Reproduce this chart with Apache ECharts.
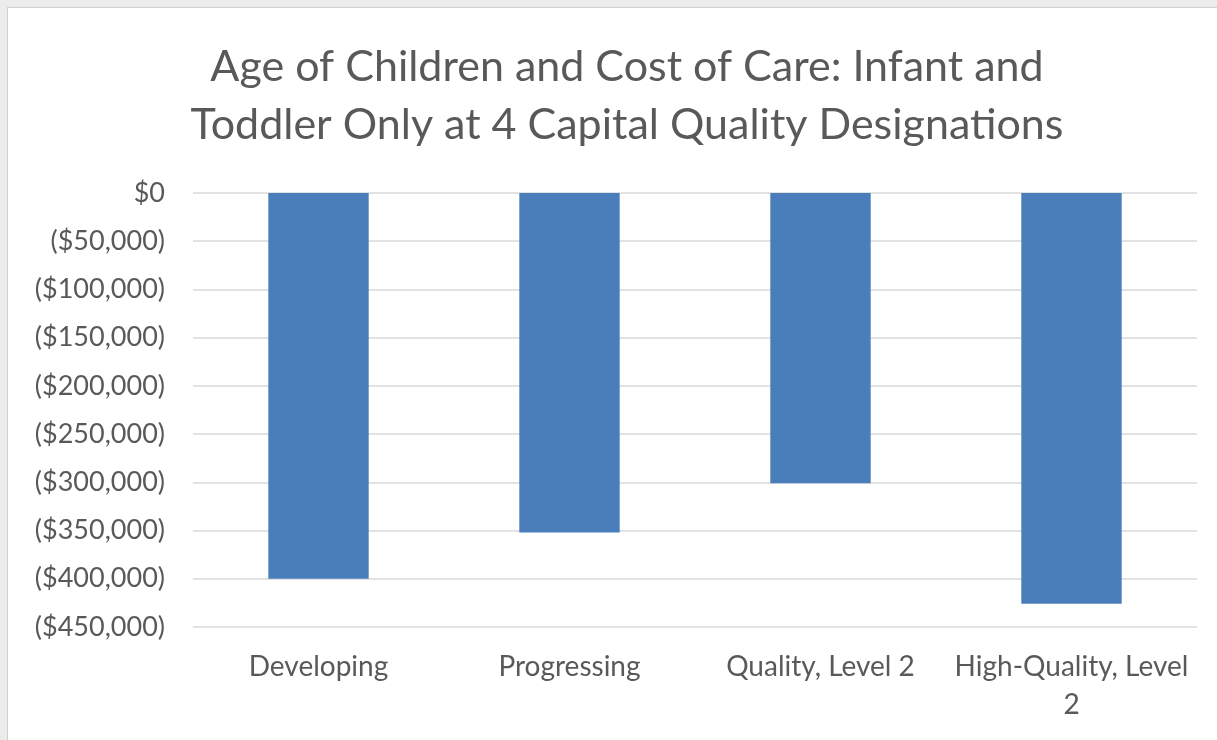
<!DOCTYPE html>
<html>
<head>
<meta charset="utf-8">
<script src="https://cdn.jsdelivr.net/npm/echarts@6/dist/echarts.min.js"></script>
<style>
html,body{margin:0;padding:0;width:1217px;height:740px;overflow:hidden;background:#ececec;}
#frame{position:absolute;left:7px;top:7px;width:1230px;height:760px;background:#fff;border:1px solid #d0d0d0;}
#chart{position:absolute;left:0;top:0;width:1217px;height:740px;}
</style>
</head>
<body>
<div id="frame"></div>
<div id="chart"></div>
<script>
const categories = ['Developing', 'Progressing', 'Quality, Level 2', 'High-Quality, Level 2'];
const values = [-400000, -352000, -301000, -426000];
const titleText = 'Age of Children and Cost of Care: Infant and\nToddler Only at 4 Capital Quality Designations';

const chart = echarts.init(document.getElementById('chart'), null, {renderer: 'canvas'});
const fontFam = 'Lato, "Open Sans", sans-serif';
chart.setOption({
  backgroundColor: 'transparent',
  animation: false,
  title: {
    text: titleText,
    left: 622, top: 33, textAlign: 'center',
    textStyle: {fontFamily: fontFam, fontSize: 43, fontWeight: 'normal', color: '#595959', lineHeight: 58}
  },
  grid: {left: 193, right: 20, top: 193, bottom: 113, containLabel: false},
  xAxis: {
    type: 'category',
    data: categories,
    axisLine: {show: false, onZero: false},
    axisTick: {show: false},
    axisLabel: {
      interval: 0,
      color: '#595959', fontFamily: fontFam, fontSize: 28, margin: 21, lineHeight: 38,
      formatter: v => v.length > 18 ? v.replace(/ (\S+)$/, '\n$1') : v
    },
    splitLine: {show: false}
  },
  yAxis: {
    type: 'value',
    min: -450000, max: 0, interval: 50000,
    axisLine: {show: false},
    axisTick: {show: false},
    splitLine: {lineStyle: {color: '#d9d9d9', width: 1.5}},
    axisLabel: {
      color: '#595959', fontFamily: fontFam, fontSize: 27, margin: 28,
      formatter: v => v === 0 ? '$0' : '($' + Math.abs(v).toLocaleString('en-US') + ')'
    }
  },
  series: [{
    type: 'bar',
    data: values,
    barWidth: '40%',
    itemStyle: {color: '#4a7ebb'}
  }]
});
</script>
</body>
</html>
